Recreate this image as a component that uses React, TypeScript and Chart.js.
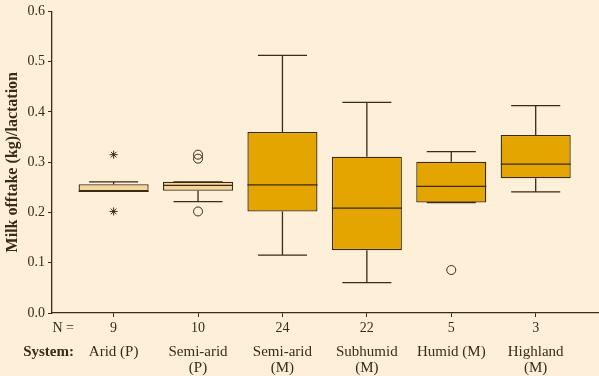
import React, { useEffect, useRef } from "react";
import { Chart, registerables } from "chart.js";

Chart.register(...registerables);

// ---- data ----
const systems: string[][] = [
  ["Arid (P)"],
  ["Semi-arid", "(P)"],
  ["Semi-arid", "(M)"],
  ["Subhumid", "(M)"],
  ["Humid (M)"],
  ["Highland", "(M)"],
];
const sampleSizes = [9, 10, 24, 22, 5, 3];
const whiskerLow = [0.242, 0.2216, 0.115, 0.0605, 0.2197, 0.2408];
const quartile1 = [0.242, 0.243, 0.202, 0.125, 0.2197, 0.268];
const medians = [0.242, 0.254, 0.255, 0.2086, 0.252, 0.296];
const quartile3 = [0.256, 0.261, 0.36, 0.311, 0.301, 0.354];
const whiskerHigh = [0.261, 0.261, 0.5125, 0.419, 0.321, 0.4125];
const outliers: number[][] = [[], [0.315, 0.307, 0.202], [], [], [0.0855], []];
const extremes: number[][] = [[0.315, 0.202], [], [], [], [], []];
const yTicks = [0, 0.1, 0.2, 0.3, 0.4, 0.5, 0.6];

// ---- style ----
const BG = "#FDEFD8";
const INK = "#3A2B16";
const LIGHT = "#F6D59C";
const GOLD = "#E4A500";
const boxFills = ["light", "light", "gold", "gold", "gold", "gold"].map((k) =>
  k === "light" ? LIGHT : GOLD
);
const FONT = "'Liberation Serif', 'Times New Roman', serif";

const positions = sampleSizes.map((_, i) => i + 1);

const boxPlugin = {
  id: "boxParts",
  beforeDraw(chart: any) {
    const { ctx, width, height } = chart;
    ctx.save();
    ctx.fillStyle = BG;
    ctx.fillRect(0, 0, width, height);
    ctx.restore();
  },
  afterDatasetsDraw(chart: any) {
    const { ctx } = chart;
    const y = chart.scales.y;
    const meta = chart.getDatasetMeta(0);
    ctx.save();
    ctx.strokeStyle = INK;
    ctx.lineWidth = 1.3;
    meta.data.forEach((bar: any, i: number) => {
      const cx = bar.x;
      const half = bar.width / 2;
      const cap = half * 0.7;
      const yq1 = y.getPixelForValue(quartile1[i]);
      const yq3 = y.getPixelForValue(quartile3[i]);
      const ylo = y.getPixelForValue(whiskerLow[i]);
      const yhi = y.getPixelForValue(whiskerHigh[i]);
      const ymed = y.getPixelForValue(medians[i]);
      ctx.beginPath();
      ctx.moveTo(cx, yq3);
      ctx.lineTo(cx, yhi);
      ctx.moveTo(cx - cap, yhi);
      ctx.lineTo(cx + cap, yhi);
      ctx.moveTo(cx, yq1);
      ctx.lineTo(cx, ylo);
      ctx.moveTo(cx - cap, ylo);
      ctx.lineTo(cx + cap, ylo);
      ctx.moveTo(cx - half, ymed);
      ctx.lineTo(cx + half, ymed);
      ctx.stroke();
    });
    ctx.restore();
  },
  afterDraw(chart: any) {
    const { ctx, chartArea } = chart;
    const xs = chart.scales.x;
    const x2 = chart.scales.x2;
    ctx.save();
    ctx.fillStyle = INK;
    ctx.textAlign = "right";
    ctx.textBaseline = "middle";
    ctx.font = `14px ${FONT}`;
    ctx.fillText("N =", chartArea.left + 22, xs.top + 15);
    ctx.font = `bold 15px ${FONT}`;
    ctx.fillText("System:", chartArea.left + 22, x2.top + 13.5);
    ctx.restore();
  },
};

export default function App() {
  const ref = useRef<HTMLCanvasElement | null>(null);

  useEffect(() => {
    document.body.style.margin = "0";
    document.body.style.background = BG;
    const canvas = ref.current;
    if (!canvas) return;

    const circlePoints = outliers.flatMap((vals, i) =>
      vals.map((v) => ({ x: positions[i], y: v }))
    );
    const starPoints = extremes.flatMap((vals, i) =>
      vals.map((v) => ({ x: positions[i], y: v }))
    );

    const xCommon = {
      type: "linear" as const,
      min: 0.27,
      max: 6.75,
      offset: false,
      afterBuildTicks: (s: any) => {
        s.ticks = positions.map((p) => ({ value: p }));
      },
    };

    const chart = new Chart(canvas, {
      type: "bar",
      data: {
        datasets: [
          {
            type: "bar",
            data: quartile1.map((lo, i) => ({ x: positions[i], y: [lo, quartile3[i]] })) as any,
            backgroundColor: boxFills,
            borderColor: INK,
            borderWidth: 1.3,
            borderSkipped: false,
            barPercentage: 0.83,
            categoryPercentage: 1,
            order: 2,
          },
          {
            type: "scatter",
            data: circlePoints,
            pointStyle: "circle",
            radius: 4.5,
            borderColor: INK,
            borderWidth: 1,
            backgroundColor: "rgba(0,0,0,0)",
            order: 1,
          },
          {
            type: "scatter",
            data: starPoints,
            pointStyle: "star",
            radius: 4,
            borderColor: INK,
            borderWidth: 1,
            backgroundColor: "rgba(0,0,0,0)",
            order: 1,
          },
        ] as any,
      },
      options: {
        responsive: false,
        animation: false,
        devicePixelRatio: 1,
        layout: { autoPadding: false, padding: { top: 9, left: 0, right: 0, bottom: 0 } },
        plugins: {
          legend: { display: false },
          tooltip: { enabled: false },
        },
        scales: {
          x: {
            ...xCommon,
            position: "bottom",
            weight: 0,
            grid: {
              display: true,
              drawOnChartArea: false,
              drawTicks: true,
              tickLength: 4,
              color: INK,
              offset: false,
            },
            border: { display: true, color: INK, width: 1.3 },
            ticks: {
              color: INK,
              font: { family: FONT, size: 14 },
              padding: 3,
              maxRotation: 0,
              autoSkip: false,
              callback: (v: any) => String(sampleSizes[Math.round(v) - 1] ?? ""),
            },
            afterFit: (s: any) => {
              s.height = 26;
              s.paddingLeft = 0;
              s.paddingRight = 0;
            },
          },
          x2: {
            ...xCommon,
            position: "bottom",
            weight: 1,
            grid: { display: false, drawTicks: false, offset: false },
            border: { display: false },
            ticks: {
              color: INK,
              font: { family: FONT, size: 15, lineHeight: "16px" },
              padding: 5,
              maxRotation: 0,
              autoSkip: false,
              callback: (v: any) => systems[Math.round(v) - 1] ?? "",
            },
            afterFit: (s: any) => {
              s.height = 37;
              s.paddingLeft = 0;
              s.paddingRight = 0;
            },
          },
          y: {
            type: "linear",
            min: 0,
            max: 0.6,
            afterBuildTicks: (s: any) => {
              s.ticks = yTicks.map((v) => ({ value: v }));
            },
            grid: {
              display: true,
              drawOnChartArea: false,
              drawTicks: true,
              tickLength: 4,
              color: INK,
            },
            border: { display: true, color: INK, width: 1.3 },
            ticks: {
              color: INK,
              font: { family: FONT, size: 14 },
              padding: 3,
              callback: (v: any) => Number(v).toFixed(1),
            },
            title: {
              display: true,
              text: "Milk offtake (kg)/lactation",
              color: INK,
              font: { family: FONT, size: 16, weight: "bold" },
              padding: { top: 3, bottom: 3 },
            },
            afterFit: (s: any) => {
              s.width = 52;
            },
          },
        },
      } as any,
      plugins: [boxPlugin],
    });

    return () => chart.destroy();
  }, []);

  return (
    <div style={{ width: 599, height: 376, background: BG }}>
      <canvas ref={ref} width={599} height={376} style={{ display: "block" }} />
    </div>
  );
}
